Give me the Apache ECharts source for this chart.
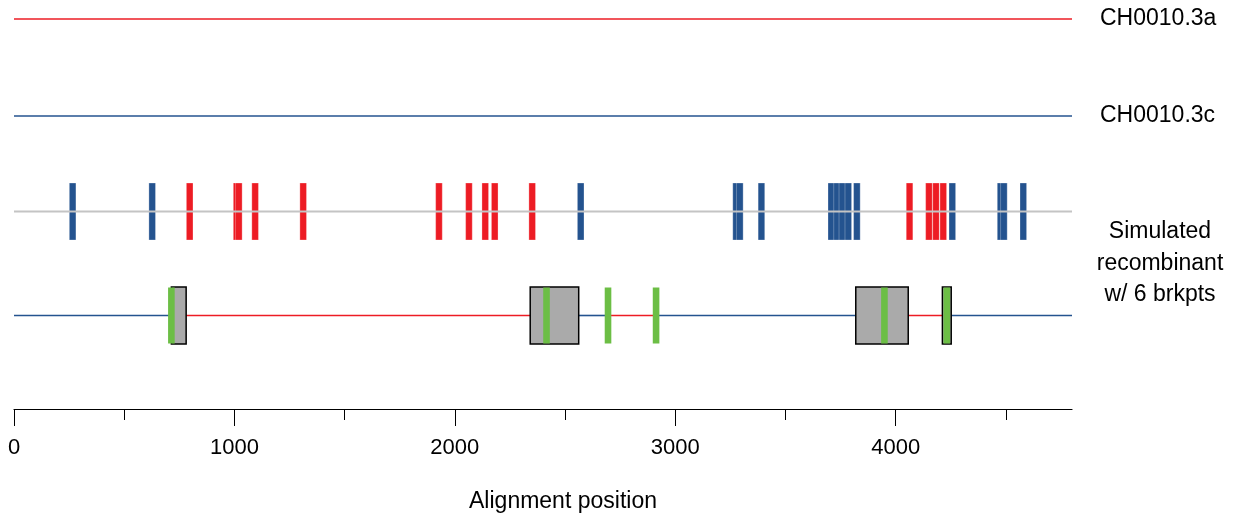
<!DOCTYPE html>
<html>
<head>
<meta charset="utf-8">
<script src="https://cdn.jsdelivr.net/npm/echarts@6/dist/echarts.min.js"></script>
<style>html,body{margin:0;padding:0;background:#fff}#c{width:1242px;height:517px}</style>
</head>
<body>
<div id="c"></div>
<script>
// ---- data ----
var ALIGN_LEN = 4800;
var xTicks = [0, 1000, 2000, 3000, 4000];
var xTitle = 'Alignment position';
var seqNames = ['CH0010.3a', 'CH0010.3c', 'Simulated\nrecombinant\nw/ 6 brkpts'];
// informative sites: position, parent (a = red, c = blue)
var sitesA = [797, 1010, 1020, 1094, 1312, 1928, 2064, 2138, 2181, 2351, 4063, 4151, 4183, 4216];
var sitesC = [266, 627, 2571, 3276, 3293, 3391, 3708, 3734, 3758, 3785, 3824, 4257, 4476, 4491, 4579];
// recombinant segments: [start, end, parent]
var segStart = [0, 781, 2562, 2695, 2913, 4057, 4252];
var segEnd   = [714, 2342, 2695, 2913, 3819, 4212, 4800];
var segParent = ['c', 'a', 'c', 'a', 'c', 'a', 'c'];
// breakpoint confidence intervals
var boxStart = [714, 2342, 3819, 4212];
var boxEnd   = [781, 2562, 4057, 4252];
// true (simulated) breakpoints
var trueBrk = [714, 2416, 2695, 2913, 3949, 4232];

// ---- styling / layout ----
var RED = '#ED1C24', BLUE = '#24538F', GREEN = '#6CBE45', GREY = '#AAAAAA';
var ROW_Y = [19, 116, 211.5, 315.5];
var SITE_W = 30, SITE_H = 57, BOX_H = 57;
var FONT = '"Liberation Sans", Arial, Helvetica, sans-serif';

function rectItem(x0, x1, y, h, api) {
  var p0 = api.coord([x0, y]);
  var p1 = api.coord([x1, y]);
  return { x: p0[0], y: p0[1] - h / 2, width: p1[0] - p0[0], height: h };
}

var siteData = sitesA.map(function (v) { return [v, 0]; })
  .concat(sitesC.map(function (v) { return [v, 1]; }));
var segData = segStart.map(function (s, i) { return [s, segEnd[i], segParent[i] === 'a' ? 0 : 1]; });
var boxData = boxStart.map(function (s, i) { return [s, boxEnd[i]]; });

var chart = echarts.init(document.getElementById('c'), null, { renderer: 'canvas' });
chart.setOption({
  animation: false,
  backgroundColor: '#fff',
  grid: { left: 14, right: 170, top: 0, bottom: 108, containLabel: false },
  xAxis: {
    type: 'value', min: 0, max: ALIGN_LEN, interval: 1000, position: 'bottom',
    axisLine: { show: true, onZero: false, lineStyle: { color: '#000', width: 1.2 } },
    axisTick: { show: true, length: 17, customValues: xTicks, lineStyle: { color: '#000', width: 1 } },
    minorTick: { show: true, splitNumber: 2, length: 11, lineStyle: { color: '#000', width: 1 } },
    splitLine: { show: false },
    axisLabel: {
      color: '#000', fontSize: 22, fontFamily: FONT, margin: 28,
      customValues: xTicks,
      formatter: function (v) { return String(v); }
    }
  },
  yAxis: { type: 'value', min: 0, max: 409, inverse: true, show: false },
  series: [
    { type: 'line', data: [[0, ROW_Y[0]], [ALIGN_LEN, ROW_Y[0]]], symbol: 'none',
      lineStyle: { color: RED, width: 1.5 }, silent: true },
    { type: 'line', data: [[0, ROW_Y[1]], [ALIGN_LEN, ROW_Y[1]]], symbol: 'none',
      lineStyle: { color: BLUE, width: 1.5 }, silent: true },
    { type: 'line', data: [[0, ROW_Y[2]], [ALIGN_LEN, ROW_Y[2]]], symbol: 'none',
      lineStyle: { color: '#C4C4C4', width: 2 }, silent: true },
    { type: 'custom', data: siteData, renderItem: function (params, api) {
        var v = api.value(0), c = api.value(1);
        return { type: 'rect', shape: rectItem(v - SITE_W / 2, v + SITE_W / 2, ROW_Y[2], SITE_H, api),
          style: { fill: c === 0 ? RED : BLUE, stroke: 'rgba(255,255,255,0.4)', lineWidth: 0.7 } };
      } },
    { type: 'custom', data: segData, renderItem: function (params, api) {
        var p0 = api.coord([api.value(0), ROW_Y[3]]), p1 = api.coord([api.value(1), ROW_Y[3]]);
        return { type: 'line', shape: { x1: p0[0], y1: p0[1], x2: p1[0], y2: p1[1] },
          style: { stroke: api.value(2) === 0 ? RED : BLUE, lineWidth: 1.6 } };
      } },
    { type: 'custom', data: boxData, renderItem: function (params, api) {
        return { type: 'rect', shape: rectItem(api.value(0), api.value(1), ROW_Y[3], BOX_H, api),
          style: { fill: GREY, stroke: '#000', lineWidth: 1.5 } };
      } },
    { type: 'custom', data: trueBrk.map(function (v) { return [v]; }), renderItem: function (params, api) {
        var v = api.value(0);
        return { type: 'rect', shape: rectItem(v - SITE_W / 2, v + SITE_W / 2, ROW_Y[3], BOX_H - 1, api),
          style: { fill: GREEN } };
      } }
  ],
  graphic: [
    { type: 'text', x: 1100, y: ROW_Y[0], style: { text: seqNames[0], fill: '#000', fontSize: 23, fontFamily: FONT, verticalAlign: 'middle' } },
    { type: 'text', x: 1100, y: ROW_Y[1], style: { text: seqNames[1], fill: '#000', fontSize: 23, fontFamily: FONT, verticalAlign: 'middle' } },
    { type: 'text', x: 1160, y: 216, style: { text: seqNames[2], fill: '#000', fontSize: 23, lineHeight: 31.5, fontFamily: FONT, align: 'center', verticalAlign: 'top' } },
    { type: 'text', x: 563, y: 502, style: { text: xTitle, fill: '#000', fontSize: 23, fontFamily: FONT, align: 'center', verticalAlign: 'middle' } }
  ]
});
</script>
</body>
</html>
